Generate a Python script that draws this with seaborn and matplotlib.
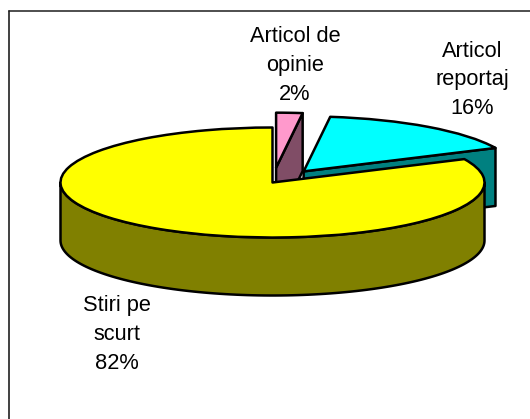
import matplotlib
matplotlib.use("Agg")
import matplotlib.pyplot as plt
from matplotlib.lines import Line2D
import numpy as np
import seaborn as sns

LABELS = ["Stiri pe\nscurt\n82%", "Articol\nreportaj\n16%", "Articol de\nopinie\n2%"]
VALUES = [82, 16, 2]
EXPLODE = [0, 0.25, 0.27]
TOP_COLORS = ["#FFFF00", "#00FFFF", "#FF99CC"]
SIDE_COLORS = ["#808000", "#008080", "#804D66"]

WIDTH, HEIGHT = 530, 419
# pie centre and ellipse radii in pixels
CX, CY, RX, RY = 272.5, 182.5, 212, 55
DEPTH = 58 / RY
LW = 1.8


def configure_plot_style():
    sns.set_theme(style="white")
    plt.rcParams["font.family"] = ["Liberation Sans", "DejaVu Sans"]


def arc(theta1, theta2, center):
    t = np.radians(np.linspace(theta1, theta2, 120))
    return center[0] + np.cos(t), center[1] + np.sin(t)


def draw_rim(ax, theta1, theta2, center, color, zorder):
    x, y = arc(theta1, theta2, center)
    ax.fill(np.r_[x, x[::-1]], np.r_[y, y[::-1] - DEPTH], facecolor=color,
            edgecolor="black", linewidth=LW, joinstyle="round", zorder=zorder)


def draw_cut(ax, theta, center, color, zorder):
    x, y = arc(theta, theta, center)
    xs = [center[0], x[0], x[0], center[0]]
    ys = [center[1], y[0], y[0] - DEPTH, center[1] - DEPTH]
    ax.fill(xs, ys, facecolor=color, edgecolor="black", linewidth=LW,
            joinstyle="round", zorder=zorder)


def plot_pie():
    fig = plt.figure(figsize=(WIDTH / 100, HEIGHT / 100), dpi=100)
    ax = fig.add_axes([0, 0, 1, 1])
    wedges, _ = ax.pie(
        VALUES,
        explode=EXPLODE,
        colors=TOP_COLORS,
        startangle=90,
        wedgeprops={"edgecolor": "black", "linewidth": LW, "joinstyle": "round"},
    )
    # flatten the unit pie to an ellipse, pixel limits keep the layout
    ax.set_aspect("auto")
    ax.set_xlim(-CX / RX, (WIDTH - CX) / RX)
    ax.set_ylim((CY - HEIGHT) / RY, CY / RY)
    ax.axis("off")

    yellow, cyan, pink = wedges
    # back to front: opinie, reportaj, stiri
    draw_cut(ax, pink.theta1, pink.center, SIDE_COLORS[2], 1)
    pink.set_zorder(2)
    draw_cut(ax, cyan.theta1, cyan.center, SIDE_COLORS[1], 3)
    cyan.set_zorder(4)
    draw_rim(ax, 180, 360, yellow.center, SIDE_COLORS[0], 5)
    yellow.set_zorder(6)

    # chart border, only top and left survive in the crop
    fig.add_artist(Line2D([8.5 / WIDTH, 1], [1 - 11.5 / HEIGHT] * 2, color="#303030", linewidth=1.2))
    fig.add_artist(Line2D([8.5 / WIDTH] * 2, [1 - 11.5 / HEIGHT, 0], color="#202020", linewidth=1.2))

    text_kw = dict(ha="center", va="center", fontsize=15.7, linespacing=1.47, color="black")
    fig.text(295 / WIDTH, 1 - 65.5 / HEIGHT, LABELS[2], **text_kw)
    fig.text(472.5 / WIDTH, 1 - 80 / HEIGHT, LABELS[1], **text_kw)
    fig.text(117 / WIDTH, 1 - 334.5 / HEIGHT, LABELS[0], **text_kw)

    fig.savefig("out.png", dpi=100)
    plt.close(fig)


def main():
    configure_plot_style()
    plot_pie()


if __name__ == "__main__":
    main()
